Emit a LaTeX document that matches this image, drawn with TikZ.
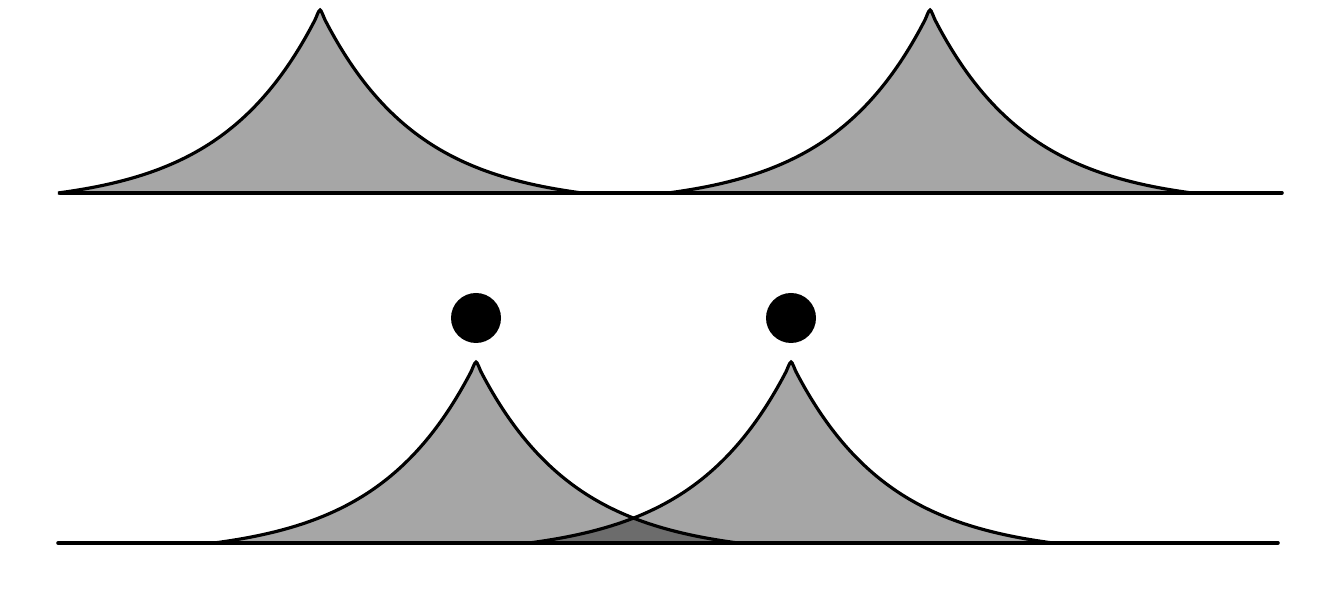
\documentclass[tikz,border=0pt]{standalone}
\usepackage{tikz}
\usetikzlibrary{calc}

\begin{document}
\begin{tikzpicture}[x=0.01cm,y=0.01cm,line cap=round,
  peak/.style={fill=black,fill opacity=0.35,draw=black,draw opacity=1,line width=0.9pt},
  axis/.style={line width=1pt}]
\useasboundingbox[fill=white] (0,0) rectangle (1325,616);
% peak profile: exp tail shifted so that the feet touch the base line
\pgfmathsetmacro{\tail}{exp(-262/96)}
% top row: two separate peaks
\foreach \c in {320,930}
  \draw[peak] plot[domain=-262:262,samples=105,smooth] ({\c+\x},{423+183*(exp(-abs(\x)/96)-\tail)/(1-\tail)}) -- cycle;
\draw[axis] (60,423) -- (1282,423);
% bottom row: two overlapping peaks with dots
\foreach \c in {476,791}{
  \draw[peak] plot[domain=-262:262,samples=105,smooth] ({\c+\x},{73+181*(exp(-abs(\x)/96)-\tail)/(1-\tail)}) -- cycle;
  \fill (\c,298) circle (25);
}
\draw[axis] (58,73) -- (1278,73);
\end{tikzpicture}
\end{document}
